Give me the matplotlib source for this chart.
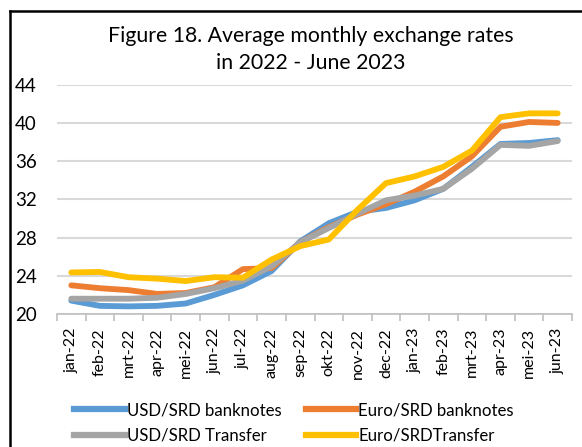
import matplotlib
matplotlib.use("Agg")
import matplotlib.pyplot as plt
from matplotlib.lines import Line2D

months = ["jan-22", "feb-22", "mrt-22", "apr-22", "mei-22", "jun-22", "jul-22", "aug-22",
          "sep-22", "okt-22", "nov-22", "dec-22", "jan-23", "feb-23", "mrt-23", "apr-23",
          "mei-23", "jun-23"]
usd_banknotes = [21.4, 20.85, 20.8, 20.85, 21.1, 22.0, 23.0, 24.5, 27.6, 29.5, 30.7, 31.1,
                 31.9, 33.1, 35.4, 37.8, 37.9, 38.2]
euro_banknotes = [23.0, 22.7, 22.5, 22.1, 22.2, 22.8, 24.7, 24.8, 27.5, 29.1, 30.4, 31.5,
                  32.8, 34.4, 36.5, 39.6, 40.1, 40.0]
usd_transfer = [21.6, 21.6, 21.6, 21.7, 22.1, 22.7, 23.5, 25.0, 27.5, 29.0, 30.5, 31.9,
                32.4, 33.1, 35.2, 37.7, 37.6, 38.1]
euro_transfer = [24.35, 24.4, 23.85, 23.7, 23.45, 23.85, 23.8, 25.7, 27.1, 27.8, 30.9, 33.7,
                 34.4, 35.4, 37.1, 40.6, 41.0, 41.0]
series_names = ["USD/SRD banknotes", "Euro/SRD banknotes", "USD/SRD Transfer", "Euro/SRDTransfer"]
y_ticks = [20, 24, 28, 32, 36, 40, 44]

colors = ["#5B9BD5", "#ED7D31", "#A5A5A5", "#FFC000"]
font = "Lato"
plt.rcParams["font.family"] = [font, "DejaVu Sans"]

W, H = 582, 447
fig = plt.figure(figsize=(W / 100, H / 100), dpi=100)
ax = fig.add_axes([57 / W, 1 - 314 / H, (572 - 57) / W, (314 - 84.7) / H])

x = list(range(len(months)))
for vals, c, name in zip([usd_banknotes, euro_banknotes, usd_transfer, euro_transfer], colors, series_names):
    ax.plot(x, vals, color=c, lw=4.2, solid_capstyle="round", solid_joinstyle="round", label=name)

ax.set_xlim(-0.5, len(months) - 0.5)
ax.set_ylim(20, 44)
ax.set_yticks(y_ticks)
ax.set_yticklabels([str(v) for v in y_ticks], fontsize=13.5)
ax.grid(axis="y", color="#d9d9d9", lw=1.5)
ax.set_axisbelow(True)
for s in ["top", "right", "left"]:
    ax.spines[s].set_visible(False)
ax.spines["bottom"].set_color("#bfbfbf")
ax.spines["bottom"].set_linewidth(1.2)
ax.tick_params(axis="y", length=0, pad=14.4)
ax.set_xticks([i - 0.5 for i in range(len(months) + 1)], minor=False)
ax.set_xticklabels([])
ax.tick_params(axis="x", which="major", length=5, color="#bfbfbf", width=1.2)
ax.set_xticks(x, minor=True)
ax.set_xticklabels(months, minor=True, rotation=90, fontsize=11.5)
ax.tick_params(axis="x", which="minor", length=0, pad=10)

fig.text(311 / W, 1 - 36 / H, "Figure 18. Average monthly exchange rates", ha="center", va="center", fontsize=15.3)
fig.text(311 / W, 1 - 63 / H, "in 2022 - June 2023", ha="center", va="center", fontsize=15.3)

leg_handles = [Line2D([], [], color=colors[i], lw=4.5) for i in [0, 2, 1, 3]]
leg_labels = [series_names[i] for i in [0, 2, 1, 3]]
fig.legend(leg_handles, leg_labels, ncol=2, loc="center", bbox_to_anchor=(294 / W, 1 - 423 / H),
           frameon=False, fontsize=12.1, handlelength=3.0, handletextpad=0.12, columnspacing=1.45,
           labelspacing=0.55)

# outer frame (left and top edges visible)
fig.add_artist(Line2D([10.5 / W, 10.5 / W], [0, 1 - 11 / H], color="black", lw=1.8))
fig.add_artist(Line2D([10.5 / W, 1], [1 - 11 / H, 1 - 11 / H], color="black", lw=1.8))

fig.savefig("out.png", dpi=100)
